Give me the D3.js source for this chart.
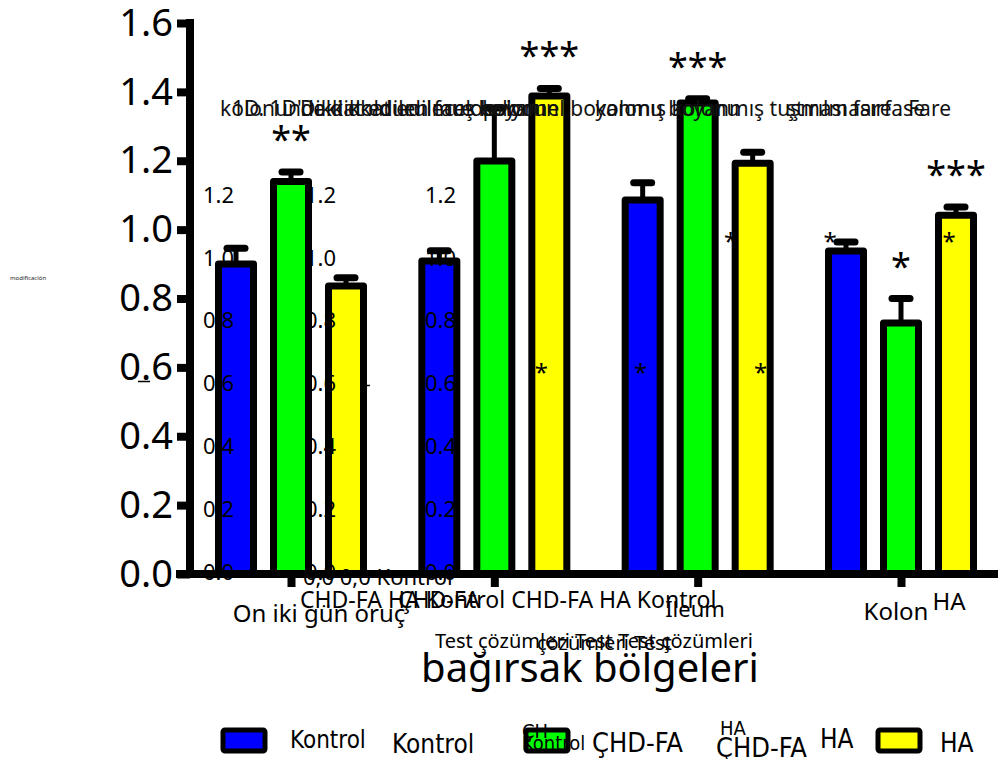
<!DOCTYPE html>
<html>
<head>
<meta charset="utf-8">
<script src="https://cdn.jsdelivr.net/npm/d3@7"></script>
<style>
  body { margin: 0; background: #fff; }
  svg { display: block; font-family: "Noto Sans", "Open Sans", sans-serif; }
  .cond { font-family: "DejaVu Sans Condensed", "DejaVu Sans", sans-serif; font-stretch: condensed; }
</style>
</head>
<body>
<svg id="chart" width="999" height="759"></svg>
<script>
// gut regions and groups
var regions = ["On iki gün oruç", "Jejunum", "İleum", "Kolon"];
var series = ["Kontrol", "ÇHD-FA", "HA"];
var colors = ["#0000ff", "#00ff00", "#ffff00"];

// mean values per region, one array per series
var kontrol = [0.900, 0.909, 1.086, 0.938];
var chdfa   = [1.140, 1.199, 1.368, 0.729];
var ha      = [0.836, 1.388, 1.193, 1.042];

// SEM per region
var kontrolErr = [0.046, 0.030, 0.050, 0.026];
var chdfaErr   = [0.027, 0.154, 0.012, 0.071];
var haErr      = [0.024, 0.022, 0.032, 0.024];

// significance marks per region
var kontrolSig = ["", "", "", ""];
var chdfaSig   = ["**", "", "***", "*"];
var haSig      = ["", "***", "", "***"];

var yTicks = [0, 0.2, 0.4, 0.6, 0.8, 1.0, 1.2, 1.4, 1.6];
var ghostTicks = [0, 0.2, 0.4, 0.6, 0.8, 1.0, 1.2];

var svg = d3.select("#chart");

var x = d3.scalePoint().domain(regions).range([291, 901]);
var xs = d3.scalePoint().domain(series).range([-55, 55]);
var y = d3.scaleLinear().domain([0, 1.6]).range([574, 23]);
var yGhost = d3.scaleLinear().domain([0, 1.2]).range([572, 195]);
var barW = 35;

var values = [kontrol, chdfa, ha];
var errs = [kontrolErr, chdfaErr, haErr];
var sigs = [kontrolSig, chdfaSig, haSig];

var bars = [];
series.forEach(function (s, si) {
    regions.forEach(function (r, ri) {
        bars.push({region: r, series: s, si: si, v: values[si][ri], e: errs[si][ri], sig: sigs[si][ri]});
    });
});

// stray tiny text on the left
svg.append("text").attr("x", 10).attr("y", 280).attr("font-size", 6).attr("fill", "#222").text("modificación");

// stray dashes
svg.append("line").attr("x1", 138).attr("x2", 150).attr("y1", yGhost(0.6) - 2).attr("y2", yGhost(0.6) - 2)
    .attr("stroke", "#000").attr("stroke-width", 1.5);
svg.append("line").attr("x1", 347).attr("x2", 370).attr("y1", yGhost(0.6) + 2).attr("y2", yGhost(0.6) + 2)
    .attr("stroke", "#000").attr("stroke-width", 1.5);

// error bars
var eb = svg.append("g");
eb.selectAll("line.stem").data(bars).enter().append("line")
    .attr("x1", function (d) { return x(d.region) + xs(d.series); })
    .attr("x2", function (d) { return x(d.region) + xs(d.series); })
    .attr("y1", function (d) { return y(d.v); })
    .attr("y2", function (d) { return y(d.v + d.e); })
    .attr("stroke", "#000").attr("stroke-width", 5);
eb.selectAll("line.cap").data(bars).enter().append("line")
    .attr("x1", function (d) { return x(d.region) + xs(d.series) - 9; })
    .attr("x2", function (d) { return x(d.region) + xs(d.series) + 9; })
    .attr("y1", function (d) { return y(d.v + d.e); })
    .attr("y2", function (d) { return y(d.v + d.e); })
    .attr("stroke", "#000").attr("stroke-width", 7).attr("stroke-linecap", "round");

// bars
svg.append("g").selectAll("rect").data(bars).enter().append("rect")
    .attr("x", function (d) { return x(d.region) + xs(d.series) - barW / 2; })
    .attr("y", function (d) { return y(d.v); })
    .attr("width", barW)
    .attr("height", function (d) { return y(0) - y(d.v); })
    .attr("fill", function (d) { return colors[d.si]; })
    .attr("stroke", "#000").attr("stroke-width", 7).attr("stroke-linejoin", "round");

// significance stars
svg.append("g").selectAll("text").data(bars.filter(function (d) { return d.sig; })).enter().append("text")
    .attr("x", function (d) { return x(d.region) + xs(d.series); })
    .attr("y", function (d) { return y(d.v + d.e) - 20; })
    .attr("text-anchor", "middle")
    .attr("font-size", 36)
    .text(function (d) { return d.sig; });

// small stray stars [region, series, value, dx]
var strayStars = [["Jejunum", "HA", 0.6, -8], ["İleum", "Kontrol", 0.6, -2], ["İleum", "HA", 0.6, 8],
                  ["İleum", "HA", 1.0, -22], ["Kolon", "Kontrol", 1.0, -16], ["Kolon", "HA", 1.0, -7]];
svg.append("g").selectAll("text").data(strayStars).enter().append("text")
    .attr("x", function (d) { return x(d[0]) + xs(d[1]) + d[3]; })
    .attr("y", function (d) { return y(d[2]) + (d[2] < 0.8 ? 14 : 20); })
    .attr("text-anchor", "middle")
    .attr("font-size", 24)
    .text("*");

// ghost tick columns
[203, 305, 425].forEach(function (gx) {
    svg.append("g").selectAll("text").data(ghostTicks).enter().append("text")
        .attr("x", gx)
        .attr("y", function (d) { return yGhost(d); })
        .attr("dy", "0.35em")
        .attr("font-size", 22)
        .text(function (d) { return d.toFixed(1); });
});

// garbled overlapping title line
var titleBits = [
    [220, "start", "kolonundaki doldurulmuş boyanın"],
    [232, "start", "1D. 1D'de dikkat edilecek kolon"],
    [300, "start", "Dikkat edilen fare kolonu"],
    [470, "start", "opsiyonel boyanmış kolonu"],
    [951, "end", "kolonu boyanmış tuşması fare . Fare"],
    [925, "end", "ştırılmasırfase"]
];
svg.append("g").selectAll("text").data(titleBits).enter().append("text")
    .attr("x", function (d) { return d[0]; })
    .attr("y", 116)
    .attr("font-size", 21)
    .attr("text-anchor", function (d) { return d[1]; })
    .attr("fill", "#111")
    .text(function (d) { return d[2]; });

// axes
var yAxis = d3.axisLeft(y).tickValues(yTicks).tickSize(13).tickPadding(4)
    .tickFormat(d3.format(".1f"));
var gy = svg.append("g").attr("transform", "translate(190,0)").call(yAxis);
gy.select(".domain").attr("stroke-width", 8).attr("d", "M0,19V578");
gy.selectAll(".tick line").attr("stroke-width", 8);
gy.selectAll(".tick text").attr("font-size", 38).attr("font-family", "Noto Sans, sans-serif").attr("fill", "#000");

var xAxis = d3.axisBottom(x).tickSize(13).tickFormat("");
var gx = svg.append("g").attr("transform", "translate(0,574)").call(xAxis);
gx.select(".domain").attr("stroke-width", 8).attr("d", "M176,0H998");
gx.selectAll(".tick line").attr("stroke-width", 8);

// x labels (as they appear, overlapped)
var xLabels = [
    [319, 622, 24, "middle", "On iki gün oruç"],
    [695, 617, 22, "middle", "İleum"],
    [896, 620, 24, "middle", "Kolon"],
    [949, 610, 24, "middle", "HA"],
    [303, 585, 22, "start", "0,0 0,0 Kontrol"],
    [300, 608, 23, "start", "CHD-FA HA Kontrol CHD-FA HA Kontrol"],
    [398, 608, 23, "start", "ÇHD-FA"],
    [435, 648, 20, "start", "Test çözümleri Test Test çözümleri"],
    [537, 650, 20, "start", "çözümleri Test"],
    [590, 682, 40, "middle", "bağırsak bölgeleri"]
];
svg.append("g").selectAll("text").data(xLabels).enter().append("text")
    .attr("x", function (d) { return d[0]; })
    .attr("y", function (d) { return d[1]; })
    .attr("font-size", function (d) { return d[2]; })
    .attr("text-anchor", function (d) { return d[3]; })
    .text(function (d) { return d[4]; });

// legend
var legendX = [244, 547, 899];
var lg = svg.append("g");
lg.selectAll("rect").data(series).enter().append("rect")
    .attr("x", function (d, i) { return legendX[i] - 21; })
    .attr("y", 730)
    .attr("width", 42).attr("height", 21)
    .attr("rx", 2)
    .attr("fill", function (d, i) { return colors[i]; })
    .attr("stroke", "#000").attr("stroke-width", 5);
var legendText = [
    [290, 748, 24, "Kontrol"],
    [392, 753, 26, "Kontrol"],
    [522, 750, 20, "Kontrol"],
    [522, 738, 20, "ÇH"],
    [592, 752, 27, "ÇHD-FA"],
    [720, 735, 20, "HA"],
    [716, 757, 27, "ÇHD-FA"],
    [820, 748, 26, "HA"],
    [940, 752, 26, "HA"]
];
lg.selectAll("text").data(legendText).enter().append("text")
    .attr("class", "cond")
    .attr("x", function (d) { return d[0]; })
    .attr("y", function (d) { return d[1]; })
    .attr("font-size", function (d) { return d[2]; })
    .text(function (d) { return d[3]; });
</script>
</body>
</html>
